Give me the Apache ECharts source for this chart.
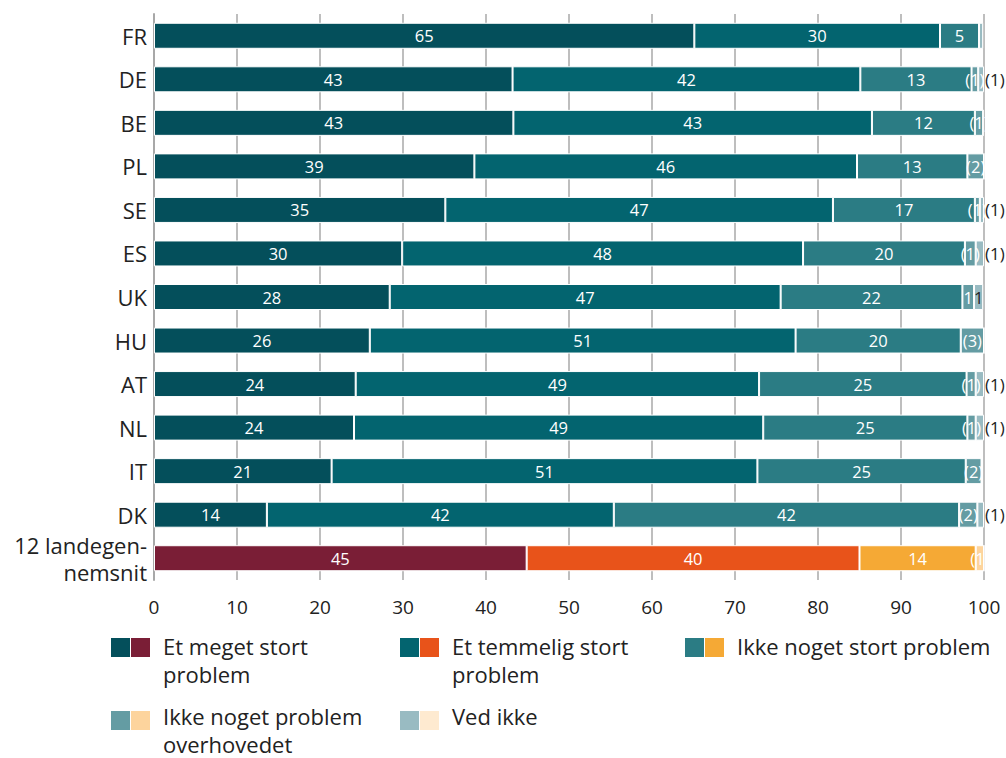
<!DOCTYPE html>
<html><head><meta charset="utf-8">
<script src="https://cdn.jsdelivr.net/npm/echarts@6/dist/echarts.min.js"></script>
<style>html,body{margin:0;padding:0;background:#fff}#c{width:1006px;height:758px}</style>
</head><body><div id="c"></div>
<script>
const categories = ['FR','DE','BE','PL','SE','ES','UK','HU','AT','NL','IT','DK','12 landegen-\nnemsnit'];
const seriesNames = ['Et meget stort\nproblem','Et temmelig stort\nproblem','Ikke noget stort problem','Ikke noget problem\noverhovedet','Ved ikke'];
// bar lengths (labels show the rounded figures)
const meget      = [65.1,43.2,43.3,38.6,35.1,29.9,28.4,26.0,24.3,24.1,21.4,13.6,44.9];
const temmelig   = [29.6,41.9,43.2,46.1,46.7,48.3,47.1,51.3,48.6,49.3,51.3,41.8,40.1];
const ikkeStort  = [4.7,13.4,12.4,13.3,17.1,19.5,21.9,19.9,25.0,24.6,25.1,41.6,14.0];
const overhoved  = [0,0.8,1.0,2.0,0.6,1.3,1.4,2.8,1.1,1.0,1.9,2.2,1.0];
const vedIkke    = [0.5,0.7,0,0,0.5,1.0,1.1,0,1.0,1.0,0,0.8,0];
const overhovedLabels = ['','(1)','(1)','(2)','(1)','(1)','1','(3)','(1)','(1)','(2)','(2)','(1)'];
const vedIkkeLabels   = ['','(1)','','','(1)','(1)','1','','(1)','(1)','','(1)',''];
const xTicks = [0,10,20,30,40,50,60,70,80,90,100];

const tealColors = ['#044f5b','#03646f','#2b7c84','#649ca3','#99bbc2'];
const warmColors = ['#7a1e36','#e8531a','#f5a935','#fdd49d','#feead0'];
const avgIndex = categories.length - 1;
const FONT = '"Open Sans", "Noto Sans", sans-serif';

function build(values, s, labelTexts) {
  return values.map((v, i) => {
    const d = { value: v };
    if (i === avgIndex) d.itemStyle = { color: warmColors[s] };
    if (labelTexts) {
      const t = labelTexts[i];
      if (!t) d.label = { show: false };
      else if (s === 4) {
        if (t === '1') d.label = { show: true, formatter: t, position: 'inside', color: '#222' };
        else d.label = { show: true, formatter: t, position: 'right', distance: 1, color: '#222', fontSize: 17 };
      } else d.label = { show: true, formatter: t };
    }
    return d;
  });
}

const dataSets = [meget, temmelig, ikkeStort, overhoved, vedIkke];
const labelSets = [null, null, null, overhovedLabels, vedIkkeLabels];

const series = dataSets.map((vals, s) => ({
  name: seriesNames[s],
  type: 'bar',
  stack: 'total',
  barWidth: 26,
  itemStyle: { color: tealColors[s], borderColor: '#ffffff', borderWidth: 1 },
  label: {
    show: true, position: 'inside', color: '#ffffff', fontSize: 16.5, fontFamily: FONT,
    formatter: p => String(Math.round(p.value))
  },
  emphasis: { disabled: true },
  data: build(vals, s, labelSets[s])
}));

// legend built with graphic elements (two swatches per item)
const legendPos = [
  { x: 111, y: 638 }, { x: 400, y: 638 }, { x: 685, y: 638 },
  { x: 111, y: 711 }, { x: 400, y: 711 }
];
const graphics = [];
legendPos.forEach((p, i) => {
  graphics.push({ type: 'rect', left: p.x, top: p.y, shape: { width: 19, height: 19 }, style: { fill: tealColors[i] } });
  graphics.push({ type: 'rect', left: p.x + 20, top: p.y, shape: { width: 19, height: 19 }, style: { fill: warmColors[i] } });
  graphics.push({ type: 'text', left: p.x + 52, top: p.y - (i >= 3 ? 9 : 6),
    style: { text: seriesNames[i], fill: '#222', font: '22px ' + FONT, lineHeight: 28 } });
});

const chart = echarts.init(document.getElementById('c'), null, { renderer: 'svg' });
chart.setOption({
  animation: false,
  textStyle: { fontFamily: FONT },
  grid: { left: 154, right: 22, top: 14, bottom: 178, containLabel: false },
  xAxis: {
    type: 'value', min: 0, max: 100, interval: 10,
    axisLine: { show: false }, axisTick: { show: false },
    splitLine: { show: true, lineStyle: { color: '#a8a8a8', width: 1.5 } },
    axisLabel: { color: '#222', fontSize: 19, margin: 17, fontFamily: FONT,
      formatter: v => xTicks.includes(v) ? String(v) : '' }
  },
  yAxis: {
    type: 'category', data: categories, inverse: true,
    axisLine: { show: true, lineStyle: { color: '#a8a8a8', width: 2 } },
    axisTick: { show: false },
    axisLabel: { color: '#222', fontSize: 22, margin: 7, fontFamily: FONT, lineHeight: 27, align: 'right' }
  },
  series: series,
  graphic: graphics
});
</script></body></html>
